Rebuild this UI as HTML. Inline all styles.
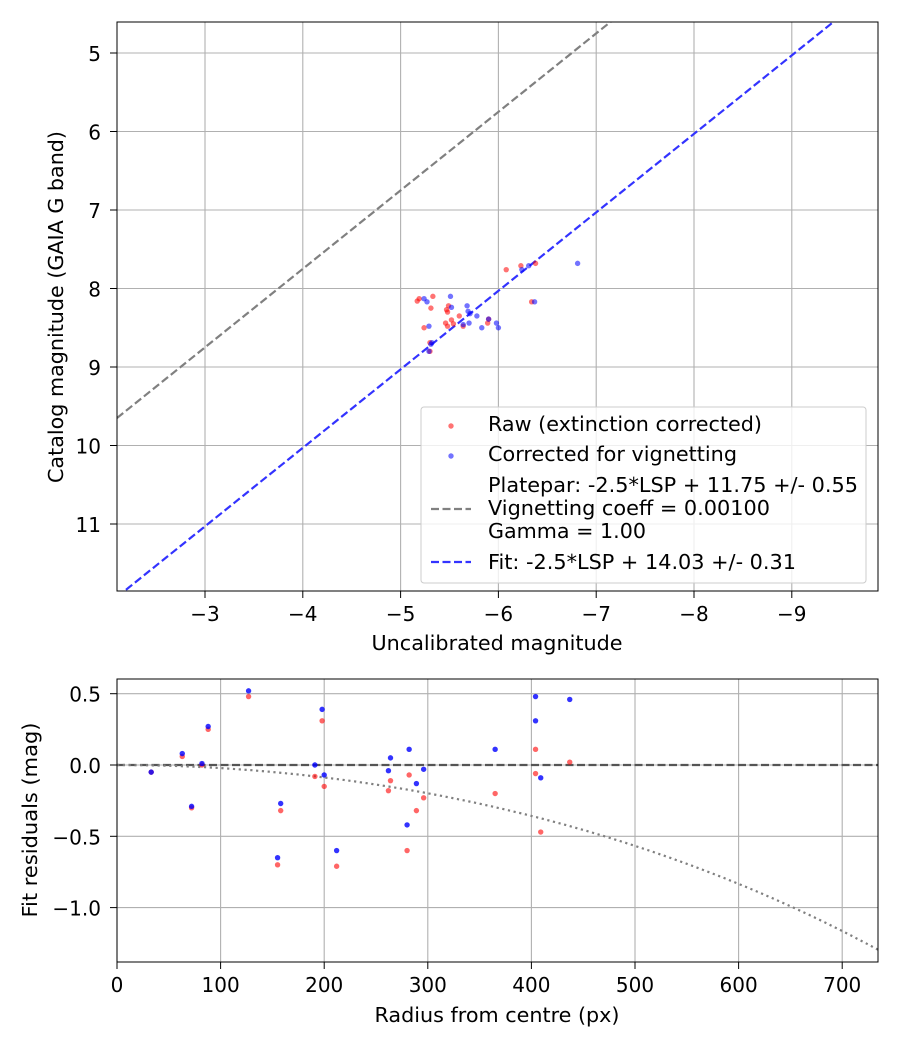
<!DOCTYPE html>
<html><head><meta charset="utf-8"><style>
html,body{margin:0;padding:0;background:#fff;}
svg{display:block;font-family:"DejaVu Sans","Liberation Sans",sans-serif;}
</style></head><body>
<svg id="fig" width="900" height="1050" viewBox="0 0 900 1050"></svg>
<script>
// ---- Top chart data ----
const rawX = [-5.17,-5.19,-5.33,-5.31,-5.49,-5.48,-5.60,-5.47,-5.54,-5.46,-5.24,-5.64,-5.30,-5.30,-5.89,-5.90,-6.08,-6.23,-6.38,-6.34,-5.52,-5.48];
const rawY = [8.16,8.13,8.10,8.25,8.22,8.30,8.35,8.27,8.45,8.44,8.50,8.48,8.69,8.80,8.44,8.39,7.76,7.71,7.68,8.17,8.40,8.48];
const corX = [-5.24,-5.27,-5.51,-5.52,-5.68,-5.69,-5.71,-5.78,-5.70,-5.64,-5.29,-5.83,-5.90,-5.98,-6.00,-5.31,-5.29,-6.24,-6.31,-6.81,-6.37,-5.32];
const corY = [8.13,8.17,8.10,8.24,8.22,8.29,8.32,8.35,8.44,8.46,8.48,8.50,8.39,8.44,8.50,8.71,8.80,7.76,7.71,7.68,8.17,8.69];
const platepar = 11.75, fitOffset = 14.03;
const topXTicks = [-3,-4,-5,-6,-7,-8,-9];
const topYTicks = [5,6,7,8,9,10,11];
// ---- Bottom chart data ----
const radius = [33,63,72,82,88,127,158,155,191,198,200,212,262,264,280,282,289,296,365,404,404,409,437];
const resRaw = [-0.05,0.06,-0.30,0.00,0.25,0.48,-0.32,-0.70,-0.08,0.31,-0.15,-0.71,-0.18,-0.11,-0.60,-0.07,-0.32,-0.23,-0.20,0.11,-0.06,-0.47,0.02];
const resCor = [-0.05,0.08,-0.29,0.01,0.27,0.52,-0.27,-0.65,0.00,0.39,-0.07,-0.60,-0.04,0.05,-0.42,0.11,-0.13,-0.03,0.11,0.48,0.31,-0.09,0.46];
const vignCoeff = 0.001;
const botXTicks = [0,100,200,300,400,500,600,700];
const botYTicks = [0.5,0.0,-0.5,-1.0];
const botYLabels = ["0.5","0.0","−0.5","−1.0"];

const NS="http://www.w3.org/2000/svg";
const svg=document.getElementById('fig');
function mk(tag,attrs,parent){const e=document.createElementNS(NS,tag);for(const k in attrs)e.setAttribute(k,attrs[k]);(parent||svg).appendChild(e);return e;}
function txt(s,x,y,anchor,parent,extra,fs){const t=mk('text',Object.assign({x:x,y:y,'text-anchor':anchor,'font-size':fs||'20','fill':'#000'},extra||{}),parent);t.textContent=s;return t;}
const BIG='20.5';
const fit=w=>({textLength:w,lengthAdjust:'spacingAndGlyphs'});

// Top axes
const T={l:117,r:878,t:22,b:591};
const tx=v=>205+(-3-v)*97.8;
const ty=v=>53+(v-5)*78.5;
const tXmin=-2.1, tXmax=-9.88;
const gTop=mk('g',{});


mk('defs',{}).innerHTML='<clipPath id="ct"><rect x="117" y="22" width="761" height="569"/></clipPath><clipPath id="cb"><rect x="117" y="679" width="761" height="283"/></clipPath>';
const gridT=mk('g',{},gTop);
topXTicks.forEach(v=>{const x=tx(v);
 const l=mk('line',{x1:x,x2:x,y1:T.t,y2:T.b,stroke:'#b0b0b0','stroke-width':1.1},gridT);
 
 mk('line',{x1:x,x2:x,y1:T.b,y2:T.b+7,stroke:'#000'},gTop);
 const t=txt('−'+Math.abs(v),x,T.b+30,'middle',gTop);
 });
topYTicks.forEach(v=>{const y=ty(v);
 const l=mk('line',{x1:T.l,x2:T.r,y1:y,y2:y,stroke:'#b0b0b0','stroke-width':1.1},gridT);
 
 mk('line',{x1:T.l-7,x2:T.l,y1:y,y2:y,stroke:'#000'},gTop);
 const t=txt(String(v),T.l-16,y+8,'end',gTop);
 });
const clipT=mk('g',{'clip-path':'url(#ct)'},gTop);
const pl=mk('line',{x1:tx(tXmin),y1:ty(tXmin+platepar),x2:tx(tXmax),y2:ty(tXmax+platepar),stroke:'#808080','stroke-width':2.2,'stroke-dasharray':'8,3.5'},clipT);

const fl=mk('line',{x1:tx(tXmin),y1:ty(tXmin+fitOffset),x2:tx(tXmax),y2:ty(tXmax+fitOffset),stroke:'#3333ff','stroke-width':2.2,'stroke-dasharray':'8,3.5'},clipT);

rawX.forEach((v,i)=>{const c=mk('circle',{cx:tx(v),cy:ty(rawY[i]),r:2.7,fill:'rgba(255,0,0,0.55)'},clipT);
 });
corX.forEach((v,i)=>{const c=mk('circle',{cx:tx(v),cy:ty(corY[i]),r:2.7,fill:'rgba(0,0,255,0.55)'},clipT);
 });
mk('rect',{x:T.l,y:T.t,width:T.r-T.l,height:T.b-T.t,fill:'none',stroke:'#000','stroke-width':1},gTop);
let lab=txt('Uncalibrated magnitude',497,650,'middle',gTop,fit(251),BIG);

lab=txt('Catalog magnitude (GAIA G band)',0,0,'middle',gTop,Object.assign({transform:'translate(63,307) rotate(-90)'},fit(352)),BIG);

// legend
const lg=mk('g',{},gTop);

mk('rect',{x:421,y:407,width:445,height:176,rx:3,fill:'rgba(255,255,255,0.8)',stroke:'#ccc'},lg);
mk('circle',{cx:451,cy:426,r:2.7,fill:'rgba(255,0,0,0.55)'},lg);
mk('circle',{cx:451,cy:456,r:2.7,fill:'rgba(0,0,255,0.55)'},lg);
mk('line',{x1:431,x2:471,y1:509,y2:509,stroke:'#808080','stroke-width':2.2,'stroke-dasharray':'8,3.5'},lg);
mk('line',{x1:431,x2:471,y1:562,y2:562,stroke:'#3333ff','stroke-width':2.2,'stroke-dasharray':'8,3.5'},lg);
[['Raw (extinction corrected)',431,274],['Corrected for vignetting',461,249],['Platepar: -2.5*LSP + 11.75 +/- 0.55',492,370],['Vignetting coeff = 0.00100',515,282],['Gamma = 1.00',538,158],['Fit: -2.5*LSP + 14.03 +/- 0.31',569,308]].forEach(a=>{
 const t=txt(a[0],488,a[1],'start',lg,fit(a[2]),BIG);});

// Bottom axes
const B={l:117,r:878,t:679,b:962};
const bx=v=>117+v*1.036;
const by=v=>765-v*142.6;
const gBot=mk('g',{});


botXTicks.forEach(v=>{const x=bx(v);
 const l=mk('line',{x1:x,x2:x,y1:B.t,y2:B.b,stroke:'#b0b0b0','stroke-width':1.1},gBot);
 
 mk('line',{x1:x,x2:x,y1:B.b,y2:B.b+7,stroke:'#000'},gBot);
 const t=txt(String(v),x,B.b+30,'middle',gBot);
 });
botYTicks.forEach((v,i)=>{const y=by(v);
 const l=mk('line',{x1:B.l,x2:B.r,y1:y,y2:y,stroke:'#b0b0b0','stroke-width':1.1},gBot);
 
 mk('line',{x1:B.l-7,x2:B.l,y1:y,y2:y,stroke:'#000'},gBot);
 const t=txt(botYLabels[i],B.l-16,y+8,'end',gBot);
 });
const clipB=mk('g',{'clip-path':'url(#cb)'},gBot);
const zl=mk('line',{x1:B.l,x2:B.r,y1:by(0),y2:by(0),stroke:'#555','stroke-width':2.2,'stroke-dasharray':'8,3.5'},clipB);

let d='';for(let r=0;r<=740;r+=5){const c=Math.cos(r*vignCoeff);const m=2.5*Math.log10(Math.pow(c,4));d+=(r?'L':'M')+bx(r).toFixed(1)+','+by(m).toFixed(1);}
const vc=mk('path',{d:d,fill:'none',stroke:'#808080','stroke-width':2.2,'stroke-dasharray':'2.2,3.6'},clipB);

radius.forEach((v,i)=>{const c=mk('circle',{cx:bx(v),cy:by(resRaw[i]),r:2.7,fill:'rgba(255,0,0,0.6)'},clipB);
 });
radius.forEach((v,i)=>{const c=mk('circle',{cx:bx(v),cy:by(resCor[i]),r:2.7,fill:'rgba(0,0,255,0.8)'},clipB);
 });
mk('rect',{x:B.l,y:B.t,width:B.r-B.l,height:B.b-B.t,fill:'none',stroke:'#000','stroke-width':1},gBot);
lab=txt('Radius from centre (px)',497,1022,'middle',gBot,fit(245),BIG);

lab=txt('Fit residuals (mag)',0,0,'middle',gBot,Object.assign({transform:'translate(37,820) rotate(-90)'},fit(195)),BIG);

</script>
</body></html>
